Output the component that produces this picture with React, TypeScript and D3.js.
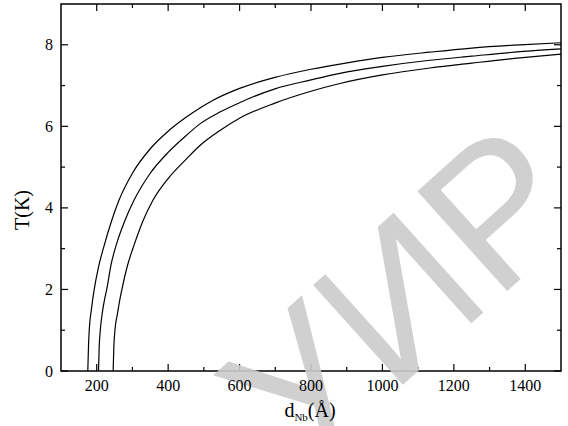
import React from "react";
import * as d3 from "d3";

const curveA_d = [175, 177, 179, 185, 193, 205, 220, 242, 262, 300, 350, 400, 450, 489, 526, 600, 699, 800, 909, 1000, 1133, 1250, 1385, 1500];
const curveA_T = [0, 0.6, 1.0, 1.5, 2.0, 2.55, 3.05, 3.69, 4.18, 4.85, 5.45, 5.88, 6.22, 6.45, 6.64, 6.93, 7.2, 7.4, 7.57, 7.69, 7.82, 7.92, 8.0, 8.05];
const curveB_d = [205, 207, 210, 216, 223, 228, 240, 255, 279, 304, 350, 400, 450, 489, 545, 600, 699, 800, 881, 1000, 1133, 1250, 1385, 1500];
const curveB_T = [0, 0.6, 1.0, 1.45, 1.8, 2.0, 2.6, 3.1, 3.69, 4.18, 4.85, 5.36, 5.77, 6.06, 6.35, 6.58, 6.92, 7.14, 7.3, 7.47, 7.62, 7.72, 7.83, 7.9];
const curveC_d = [246, 248, 251, 258, 265, 270, 285, 305, 330, 357, 400, 450, 489, 545, 600, 699, 800, 881, 1000, 1133, 1250, 1385, 1500];
const curveC_T = [0, 0.6, 1.0, 1.4, 1.76, 1.98, 2.55, 3.1, 3.69, 4.18, 4.72, 5.19, 5.53, 5.9, 6.2, 6.57, 6.86, 7.05, 7.26, 7.43, 7.55, 7.68, 7.77];

const xMajor = [200, 400, 600, 800, 1000, 1200, 1400];
const xMinor = [200, 300, 400, 500, 600, 700, 800, 900, 1000, 1100, 1200, 1300, 1400];
const yMajor = [0, 2, 4, 6, 8];
const yMinor = [1, 3, 5, 7];

const W = 568, H = 426;
const L = 61, R = 561, T = 4, B = 371;

export default function App() {
  const x = d3.scaleLinear().domain([100, 1500]).range([L, R]);
  const y = d3.scaleLinear().domain([0, 9]).range([B, T]);
  const line = d3
    .line<[number, number]>()
    .x((p) => x(p[0]))
    .y((p) => y(p[1]))
    .curve(d3.curveMonotoneX);
  const series = [
    curveA_d.map((d, i) => [d, curveA_T[i]] as [number, number]),
    curveB_d.map((d, i) => [d, curveB_T[i]] as [number, number]),
    curveC_d.map((d, i) => [d, curveC_T[i]] as [number, number]),
  ];
  const font = "'Liberation Serif', 'DejaVu Serif', serif";
  const maj = 7, mnr = 4;
  return (
    <svg width={W} height={H} style={{ position: "absolute", left: 0, top: 0, background: "#fff" }}>
      <defs>
        <clipPath id="plot">
          <rect x={L} y={T} width={R - L} height={B - T} />
        </clipPath>
      </defs>
      <g clipPath="url(#plot)">
        {series.map((s, i) => (
          <path key={i} d={line(s) || ""} fill="none" stroke="#000" strokeWidth={1.2} />
        ))}
      </g>
      <rect x={L} y={T} width={R - L} height={B - T} fill="none" stroke="#000" strokeWidth={1.5} />
      {xMinor.map((v) => {
        const len = xMajor.includes(v) ? maj : mnr;
        return (
          <g key={"xt" + v}>
            <line x1={x(v)} x2={x(v)} y1={B} y2={B - len} stroke="#000" strokeWidth={1.2} />
            <line x1={x(v)} x2={x(v)} y1={T} y2={T + len} stroke="#000" strokeWidth={1.2} />
          </g>
        );
      })}
      {[...yMajor, ...yMinor].map((v) => {
        const len = yMajor.includes(v) ? maj : mnr;
        return (
          <g key={"yt" + v}>
            <line x1={L} x2={L + len} y1={y(v)} y2={y(v)} stroke="#000" strokeWidth={1.2} />
            <line x1={R} x2={R - len} y1={y(v)} y2={y(v)} stroke="#000" strokeWidth={1.2} />
          </g>
        );
      })}
      <text
        transform="translate(400,296) rotate(-42)"
        textAnchor="middle"
        dominantBaseline="central"
        fontFamily="'Liberation Sans', sans-serif"
        fontSize={195}
        fill="#cccccc"
        opacity={0.9}
      >
        УИР
      </text>
      {xMajor.map((v) => (
        <text key={"xl" + v} x={x(v)} y={391} textAnchor="middle" fontFamily={font} fontSize={16} fill="#000">
          {v}
        </text>
      ))}
      {yMajor.map((v) => (
        <text key={"yl" + v} x={53} y={y(v) + 5.5} textAnchor="end" fontFamily={font} fontSize={16} fill="#000">
          {v}
        </text>
      ))}
      <text x={310} y={417} textAnchor="middle" fontFamily={font} fontSize={20} fill="#000">
        d<tspan fontSize={11} dy={4}>Nb</tspan>
        <tspan dy={-4}>(Å)</tspan>
      </text>
      <text
        transform="translate(29,210) rotate(-90)"
        textAnchor="middle"
        fontFamily={font}
        fontSize={20}
        fill="#000"
      >
        T(K)
      </text>
    </svg>
  );
}
